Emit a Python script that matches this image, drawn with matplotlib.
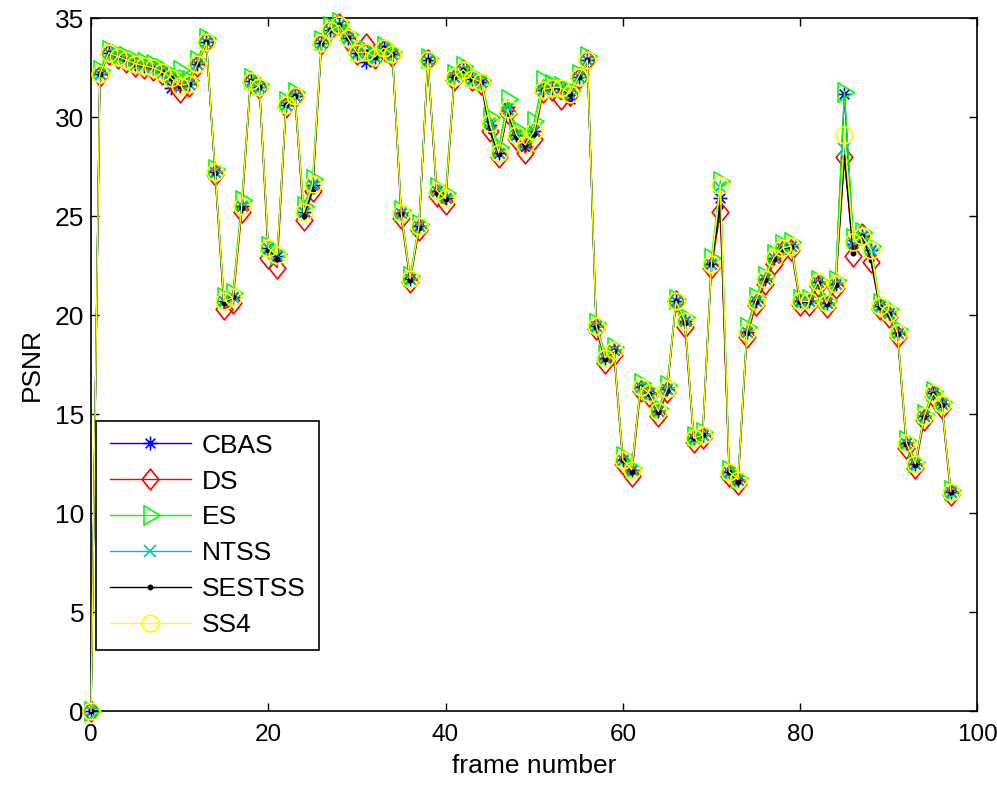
import numpy as np
import matplotlib
matplotlib.use('Agg')
import matplotlib.pyplot as plt
from matplotlib.path import Path

# -- PSNR per frame
frames = list(range(98))

ss4 = [0, 32.2, 33.26, 33.06, 32.9, 32.7, 32.6, 32.5, 32.3, 32.0,
       31.6, 31.7, 32.7, 33.8, 27.25, 20.7, 20.9, 25.5, 31.85, 31.55,
       23.4, 23.05, 30.6, 31.05, 25.2, 26.65, 33.75, 34.4, 34.65, 34.0,
       33.25, 33.3, 33.05, 33.5, 33.2, 25.15, 21.85, 24.5, 32.9, 26.3,
       25.9, 32.05, 32.4, 31.95, 31.8, 29.7, 28.2, 30.4, 29.1, 28.6,
       29.3, 31.4, 31.5, 31.5, 31.2, 32.05, 32.9, 19.45, 17.85, 18.25,
       12.7, 12.2, 16.4, 16.05, 15.15, 16.3, 20.7, 19.7, 13.8, 13.95,
       22.6, 26.6, 12.1, 11.7, 19.15, 20.7, 21.85, 22.9, 23.4, 23.5,
       20.7, 20.7, 21.7, 20.6, 21.6, 29.1, 23.7, 24.0, 23.3, 20.45,
       20.1, 19.1, 13.55, 12.5, 14.9, 16.05, 15.5, 11.1]

cbas = [0, 32.2, 33.26, 33.06, 32.9, 32.7, 32.6, 32.5, 32.3, 31.5,
        31.6, 31.7, 32.7, 33.8, 27.25, 20.7, 20.9, 25.5, 31.85, 31.55,
        23.4, 23.0, 30.6, 31.05, 25.2, 26.6, 33.75, 34.4, 34.65, 34.0,
        33.25, 32.8, 33.05, 33.5, 33.2, 25.15, 21.85, 24.5, 32.9, 26.3,
        25.9, 32.05, 32.4, 31.95, 31.8, 29.6, 28.2, 30.5, 29.1, 28.5,
        29.3, 31.4, 31.5, 31.5, 30.9, 32.05, 32.9, 19.45, 17.85, 18.25,
        12.7, 12.2, 16.4, 16.05, 15.15, 16.3, 20.7, 19.7, 13.8, 13.95,
        22.6, 25.9, 12.1, 11.7, 19.15, 20.7, 21.85, 22.9, 23.4, 23.5,
        20.7, 20.7, 21.7, 20.6, 21.6, 31.15, 23.6, 24.0, 23.3, 20.45,
        20.1, 19.1, 13.55, 12.5, 14.9, 16.05, 15.5, 11.1]

ds = [0, 32.1, 33.2, 33.0, 32.8, 32.6, 32.5, 32.4, 32.2, 31.9,
      31.3, 31.6, 32.6, 33.8, 27.1, 20.3, 20.6, 25.2, 31.8, 31.5,
      22.9, 22.4, 30.5, 31.0, 24.8, 26.3, 33.7, 34.4, 34.7, 33.9,
      33.2, 33.7, 33.0, 33.4, 33.1, 24.9, 21.7, 24.3, 32.9, 26.0,
      25.6, 31.9, 32.4, 31.9, 31.7, 29.3, 28.0, 30.2, 28.9, 28.2,
      28.9, 31.3, 31.4, 30.9, 31.1, 32.0, 32.9, 19.3, 17.6, 18.0,
      12.5, 11.9, 16.2, 15.9, 14.9, 16.1, 20.7, 19.4, 13.6, 13.8,
      22.4, 25.2, 11.9, 11.5, 18.9, 20.5, 21.6, 22.6, 23.2, 23.3,
      20.5, 20.5, 21.5, 20.4, 21.4, 28.0, 23.0, 24.1, 22.7, 20.3,
      19.9, 18.9, 13.3, 12.3, 14.7, 15.9, 15.3, 10.9]

es = [0, 32.4, 33.4, 33.2, 33.1, 32.9, 32.8, 32.7, 32.5, 32.2,
      32.4, 31.9, 32.9, 34.0, 27.4, 20.9, 21.1, 25.8, 32.0, 31.7,
      23.5, 23.1, 30.8, 31.3, 25.5, 26.9, 33.9, 34.6, 34.8, 34.2,
      33.4, 33.4, 33.2, 33.6, 33.3, 25.3, 22.0, 24.6, 33.0, 26.5,
      26.2, 32.2, 32.6, 32.1, 31.9, 30.0, 28.5, 30.9, 29.4, 28.9,
      29.8, 31.9, 31.7, 31.6, 31.4, 32.2, 33.1, 19.6, 18.0, 18.4,
      12.9, 12.3, 16.6, 16.2, 15.3, 16.5, 20.8, 19.9, 13.9, 14.1,
      22.9, 26.8, 12.2, 11.8, 19.4, 20.9, 22.0, 23.1, 23.6, 23.7,
      20.8, 20.8, 21.8, 20.7, 21.8, 31.3, 23.9, 24.2, 23.5, 20.6,
      20.3, 19.3, 13.7, 12.6, 15.0, 16.2, 15.6, 11.2]

ntss = [0, 32.2, 33.26, 33.06, 32.9, 32.7, 32.6, 32.5, 32.3, 32.0,
        31.6, 31.7, 32.7, 33.8, 27.25, 20.7, 20.9, 25.5, 31.85, 31.55,
        23.4, 23.05, 30.6, 31.05, 25.2, 26.65, 33.75, 34.4, 34.65, 34.0,
        33.25, 33.3, 33.05, 33.5, 33.2, 25.15, 21.85, 24.5, 32.9, 26.3,
        25.9, 32.05, 32.4, 31.95, 31.8, 29.7, 28.2, 30.4, 29.1, 28.6,
        29.3, 31.4, 31.5, 31.5, 31.2, 32.05, 32.9, 19.45, 17.85, 18.25,
        12.7, 12.2, 16.4, 16.05, 15.15, 16.3, 20.7, 19.7, 13.8, 13.95,
        22.6, 26.5, 12.1, 11.7, 19.15, 20.7, 21.85, 22.9, 23.4, 23.5,
        20.7, 20.7, 21.7, 20.6, 21.6, 28.4, 23.7, 24.0, 23.3, 20.45,
        20.1, 19.1, 13.55, 12.5, 14.9, 16.05, 15.5, 11.1]

sestss = [0, 32.2, 33.26, 33.06, 32.9, 32.7, 32.6, 32.5, 32.3, 32.0,
          31.6, 31.7, 32.7, 33.8, 27.2, 20.6, 20.9, 25.4, 31.85, 31.55,
          23.3, 22.85, 30.6, 31.05, 25.0, 26.3, 33.75, 34.4, 34.65, 34.0,
          33.25, 33.3, 33.05, 33.5, 33.2, 25.1, 21.8, 24.4, 32.9, 26.2,
          25.85, 32.05, 32.4, 31.95, 31.8, 29.3, 28.15, 30.2, 29.0, 28.6,
          29.15, 31.4, 31.5, 31.4, 31.2, 32.05, 32.9, 19.4, 17.8, 18.2,
          12.7, 12.1, 16.4, 16.0, 15.1, 16.2, 20.7, 19.6, 13.8, 13.95,
          22.6, 25.45, 12.1, 11.6, 19.1, 20.65, 21.8, 22.85, 23.35, 23.45,
          20.65, 20.65, 21.65, 20.55, 21.55, 28.0, 23.15, 24.0, 22.8, 20.4,
          20.05, 19.05, 13.5, 12.45, 14.85, 16.0, 15.45, 11.1]

labels = ['CBAS', 'DS', 'ES', 'NTSS', 'SESTSS', 'SS4']


def main():
    plt.rcParams['font.family'] = ['Liberation Sans', 'DejaVu Sans']
    plt.rcParams['font.size'] = 19

    # MATLAB-like marker shapes
    star = Path([(0, -1), (0, 1), (-1, 0), (1, 0),
                 (-0.7, -0.7), (0.7, 0.7), (-0.7, 0.7), (0.7, -0.7)],
                [Path.MOVETO, Path.LINETO] * 4)
    diamond = Path([(0, 1), (0.8, 0), (0, -1), (-0.8, 0), (0, 1)],
                   [Path.MOVETO, Path.LINETO, Path.LINETO, Path.LINETO, Path.CLOSEPOLY])
    tri = Path([(-0.67, 1), (1, 0), (-0.67, -1), (-0.67, 1)],
               [Path.MOVETO, Path.LINETO, Path.LINETO, Path.CLOSEPOLY])

    fig = plt.figure(figsize=(9.97, 7.87), dpi=100)
    ax = fig.add_axes([0.0913, 0.0962, 0.889, 0.8806])

    lw = 1.0
    kw = dict(lw=lw, mew=1.2, clip_on=False)
    ax.plot(frames, cbas, color='b', marker=star, ms=10, mfc='none', mec='b', label=labels[0], **kw)
    ax.plot(frames, ds, color='r', marker=diamond, ms=15, mfc='none', mec='r', label=labels[1], **kw)
    ax.plot(frames, es, color=(0, 1, 0), marker=tri, ms=14, mfc='none', mec=(0, 1, 0), label=labels[2], **kw)
    ax.plot(frames, ntss, color='c', marker='x', ms=8, label=labels[3], **kw)
    ax.plot(frames, sestss, color='k', marker='.', ms=6, label=labels[4], **kw)
    ax.plot(frames, ss4, color=(1, 1, 0), marker='o', ms=12, mfc='none', mec=(1, 1, 0), label=labels[5], **kw)

    ax.set_xlim(0, 100)
    ax.set_ylim(0, 35)
    ax.set_xticks(np.arange(0, 101, 20))
    ax.set_yticks(np.arange(0, 36, 5))
    ax.tick_params(direction='in', length=6, width=1, top=True, right=True)
    ax.tick_params(axis='x', pad=9, labelsize=17.5)
    ax.tick_params(axis='y', pad=5)
    for s in ax.spines.values():
        s.set_linewidth(1.2)
        s.set_zorder(1)
    ax.set_xlabel('frame number', labelpad=6)
    ax.set_ylabel('PSNR', labelpad=8)

    leg = ax.legend(loc='lower left', bbox_to_anchor=(0.006, 0.088), borderaxespad=0,
                    fancybox=False, framealpha=1, edgecolor='k', handlelength=3.1,
                    labelspacing=0.45, handletextpad=0.4, borderpad=0.5)
    leg.get_frame().set_linewidth(1.2)

    fig.savefig('out.png', dpi=100)


main()
